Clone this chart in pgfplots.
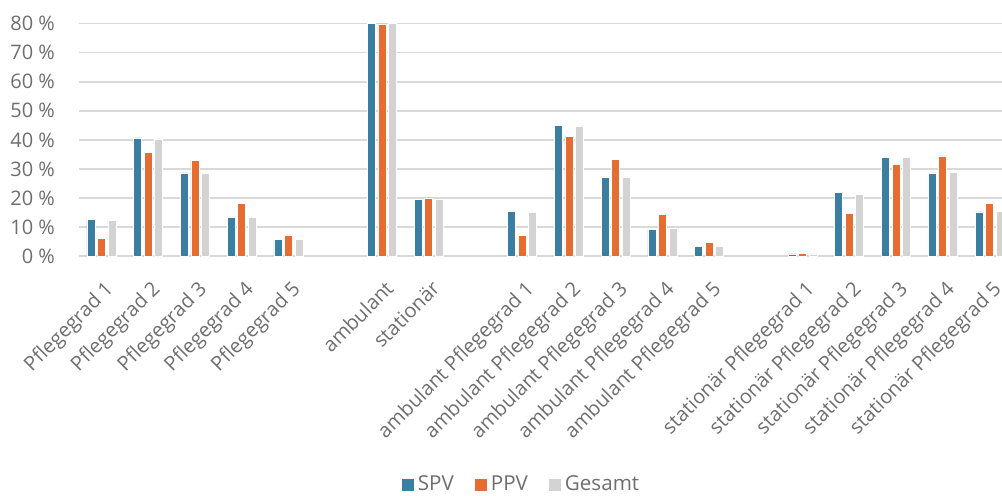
\documentclass[border=0pt]{standalone}
\usepackage{pgfplots}
\pgfplotsset{compat=1.18}
\usepackage{fontspec}
\setmainfont{Open Sans}

\definecolor{spv}{HTML}{3A7EA1}
\definecolor{ppv}{HTML}{E56D31}
\definecolor{ges}{HTML}{D3D3D3}
\definecolor{gridc}{HTML}{D9D9D9}
\definecolor{txt}{HTML}{6E6E6E}

\begin{document}
\begin{tikzpicture}
\begin{axis}[
  at={(0,0)}, anchor=south west,
  x=23.37pt, y=1.4519pt,
  xmin=-0.48, xmax=19.27,
  ymin=0, ymax=80,
  ybar=1.25pt, bar width=4pt,
  axis line style={draw=none},
  tick style={draw=none},
  major tick length=0pt,
  ymajorgrids,
  grid style={gridc, line width=0.75pt},
  ytick={0,10,...,80},
  yticklabel={\pgfmathprintnumber{\tick}~\%},
  yticklabel style={font=\fontsize{10}{12}\selectfont, text=txt, xshift=-8.5pt},
  /pgf/number format/assume math mode=true,
  xtick={0,...,19},
  xticklabels={Pflegegrad 1, Pflegegrad 2, Pflegegrad 3, Pflegegrad 4, Pflegegrad 5, ,
    ambulant, stationär, ,
    ambulant Pflegegrad 1, ambulant Pflegegrad 2, ambulant Pflegegrad 3, ambulant Pflegegrad 4, ambulant Pflegegrad 5, ,
    stationär Pflegegrad 1, stationär Pflegegrad 2, stationär Pflegegrad 3, stationär Pflegegrad 4, stationär Pflegegrad 5},
  xticklabel style={font=\fontsize{10}{12}\selectfont, text=txt,
    xshift=1pt, yshift=-11.5pt, rotate=45,
    anchor=north east, inner sep=0pt},
  legend columns=3,
  legend style={at={(0.4805,-0.985)}, anchor=center, draw=none, fill=none,
    font=\fontsize{10.3}{12}\selectfont, text=txt,
    /tikz/every even column/.append style={column sep=8.5pt}},
  legend image code/.code={\draw[#1, draw=none] (0pt,-3pt) rectangle (6pt,3pt);},
  every axis plot/.append style={draw=white, line width=0.3pt},
]
\addplot[fill=spv] coordinates {
  (0,12.7) (1,40.7) (2,28.6) (3,13.3) (4,5.6)
  (6,80.2) (7,19.6)
  (9,15.5) (10,45.1) (11,27.2) (12,9.3) (13,3.3)
  (15,0.7) (16,21.9) (17,34.0) (18,28.6) (19,15.2)};
\addplot[fill=ppv] coordinates {
  (0,6.1) (1,35.7) (2,32.9) (3,18.2) (4,7.3)
  (6,79.9) (7,20.0)
  (9,7.0) (10,41.2) (11,33.4) (12,14.2) (13,4.6)
  (15,1.0) (16,14.7) (17,31.7) (18,34.5) (19,18.2)};
\addplot[fill=ges] coordinates {
  (0,12.3) (1,40.3) (2,28.6) (3,13.3) (4,5.6)
  (6,80.2) (7,19.6)
  (9,15.2) (10,44.8) (11,27.2) (12,9.6) (13,3.3)
  (15,0.7) (16,21.3) (17,34.0) (18,28.9) (19,15.5)};
\legend{SPV, PPV, Gesamt}
\end{axis}
\pgfresetboundingbox
\path[use as bounding box] (-39.5pt,-119.5pt) rectangle (461.5pt,128pt);
\end{tikzpicture}
\end{document}
